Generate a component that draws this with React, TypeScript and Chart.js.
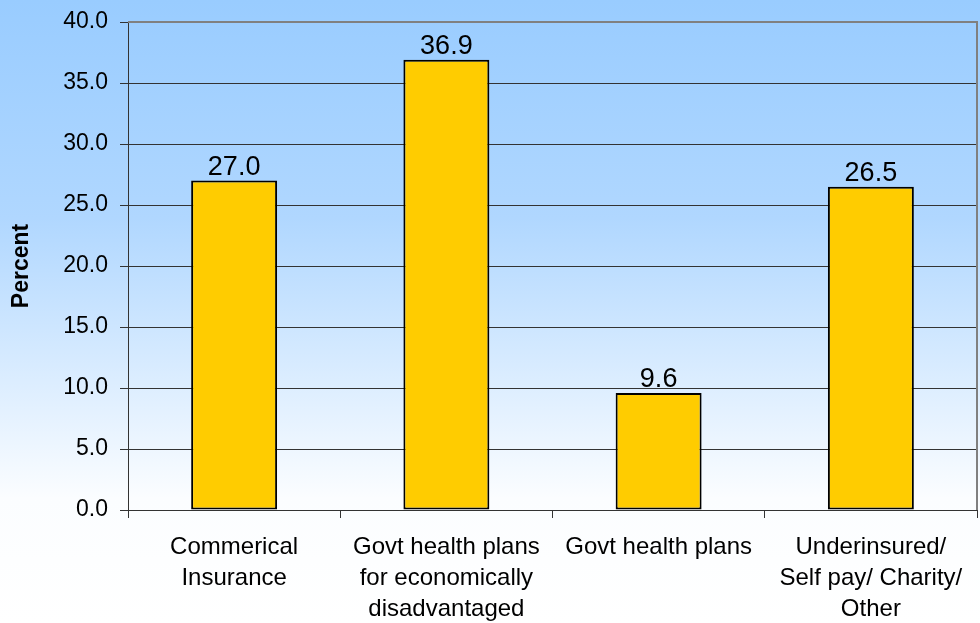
import React, { useEffect, useRef } from "react";
import { Chart, registerables } from "chart.js";

Chart.register(...registerables);

const categories: string[][] = [
  ["Commerical", "Insurance"],
  ["Govt health plans", "for economically", "disadvantaged"],
  ["Govt health plans"],
  ["Underinsured/", "Self pay/ Charity/", "Other"],
];
const percentValues: number[] = [27.0, 36.9, 9.6, 26.5];
const yMin = 0;
const yMax = 40;
const yStep = 5;
const yTitle = "Percent";

const FONT = "'Liberation Sans', Arial, sans-serif";

const bgPlugin = {
  id: "bgGradient",
  beforeDraw(chart: any) {
    const { ctx, width, height } = chart;
    const g = ctx.createLinearGradient(0, 0, 0, height);
    g.addColorStop(0, "#99ccff");
    g.addColorStop(0.35, "#b0d7ff");
    g.addColorStop(0.8, "#fbfdff");
    g.addColorStop(1, "#ffffff");
    ctx.save();
    ctx.fillStyle = g;
    ctx.fillRect(0, 0, width, height);
    ctx.restore();
  },
  afterDatasetsDraw(chart: any) {
    const { ctx, chartArea } = chart;
    ctx.save();
    ctx.strokeStyle = "#808080";
    ctx.lineWidth = 2;
    ctx.beginPath();
    ctx.moveTo(chartArea.left, chartArea.top);
    ctx.lineTo(chartArea.right, chartArea.top);
    ctx.lineTo(chartArea.right, chartArea.bottom);
    ctx.stroke();
    ctx.restore();
  },
};

const labelPlugin = {
  id: "valueLabels",
  afterDatasetsDraw(chart: any) {
    const { ctx } = chart;
    const meta = chart.getDatasetMeta(0);
    ctx.save();
    ctx.font = `27px ${FONT}`;
    ctx.fillStyle = "#000";
    ctx.textAlign = "center";
    ctx.textBaseline = "alphabetic";
    meta.data.forEach((bar: any, i: number) => {
      const v = chart.data.datasets[0].data[i] as number;
      ctx.fillText(v.toFixed(1), bar.x, bar.y - 6);
    });
    ctx.restore();
  },
};

export default function App() {
  const ref = useRef<HTMLCanvasElement>(null);
  useEffect(() => {
    if (!ref.current) return;
    const chart = new Chart(ref.current, {
      type: "bar",
      data: {
        labels: categories,
        datasets: [
          {
            data: percentValues,
            backgroundColor: "#ffcc00",
            borderColor: "#000000",
            borderWidth: 2,
            borderSkipped: false,
            categoryPercentage: 1,
            barPercentage: 0.405,
          },
        ],
      },
      options: {
        animation: false,
        responsive: false,
        maintainAspectRatio: false,
        layout: { padding: { left: 0, top: 22, right: 3, bottom: 0 } },
        plugins: {
          legend: { display: false },
          tooltip: { enabled: false },
        },
        scales: {
          x: {
            grid: {
              offset: true,
              drawOnChartArea: false,
              drawTicks: true,
              tickLength: 8,
              color: "#333333",
            },
            border: { color: "#333333", width: 1 },
            ticks: {
              color: "#000",
              font: { family: FONT, size: 24, lineHeight: "31px" as any },
              padding: 14,
              maxRotation: 0,
              autoSkip: false,
            },
            afterFit(scale: any) {
              scale.height = 113;
              scale.paddingLeft = 0;
              scale.paddingRight = 0;
            },
          },
          y: {
            min: yMin,
            max: yMax,
            grid: {
              color: (c: any) => (c.tick && c.tick.value === yMax ? "#808080" : "#333333"),
              tickColor: "#333333",
              tickLength: 8,
              lineWidth: 1,
            },
            border: { color: "#333333", width: 1 },
            ticks: {
              stepSize: yStep,
              color: "#000",
              font: { family: FONT, size: 23 },
              padding: 12,
              callback: (v: any) => Number(v).toFixed(1),
            },
            title: {
              display: true,
              text: yTitle,
              color: "#000",
              font: { family: FONT, size: 23, weight: "bold" },
              padding: { top: 8, bottom: 0 },
            },
            afterFit(scale: any) {
              scale.width = 128;
              scale.paddingTop = 0;
              scale.paddingBottom = 0;
            },
          },
        },
      },
      plugins: [bgPlugin, labelPlugin],
    });
    return () => chart.destroy();
  }, []);
  return (
    <div style={{ position: "fixed", left: 0, top: 0, width: 980, height: 623 }}>
      <canvas ref={ref} width={980} height={623} style={{ width: 980, height: 623 }} />
    </div>
  );
}
